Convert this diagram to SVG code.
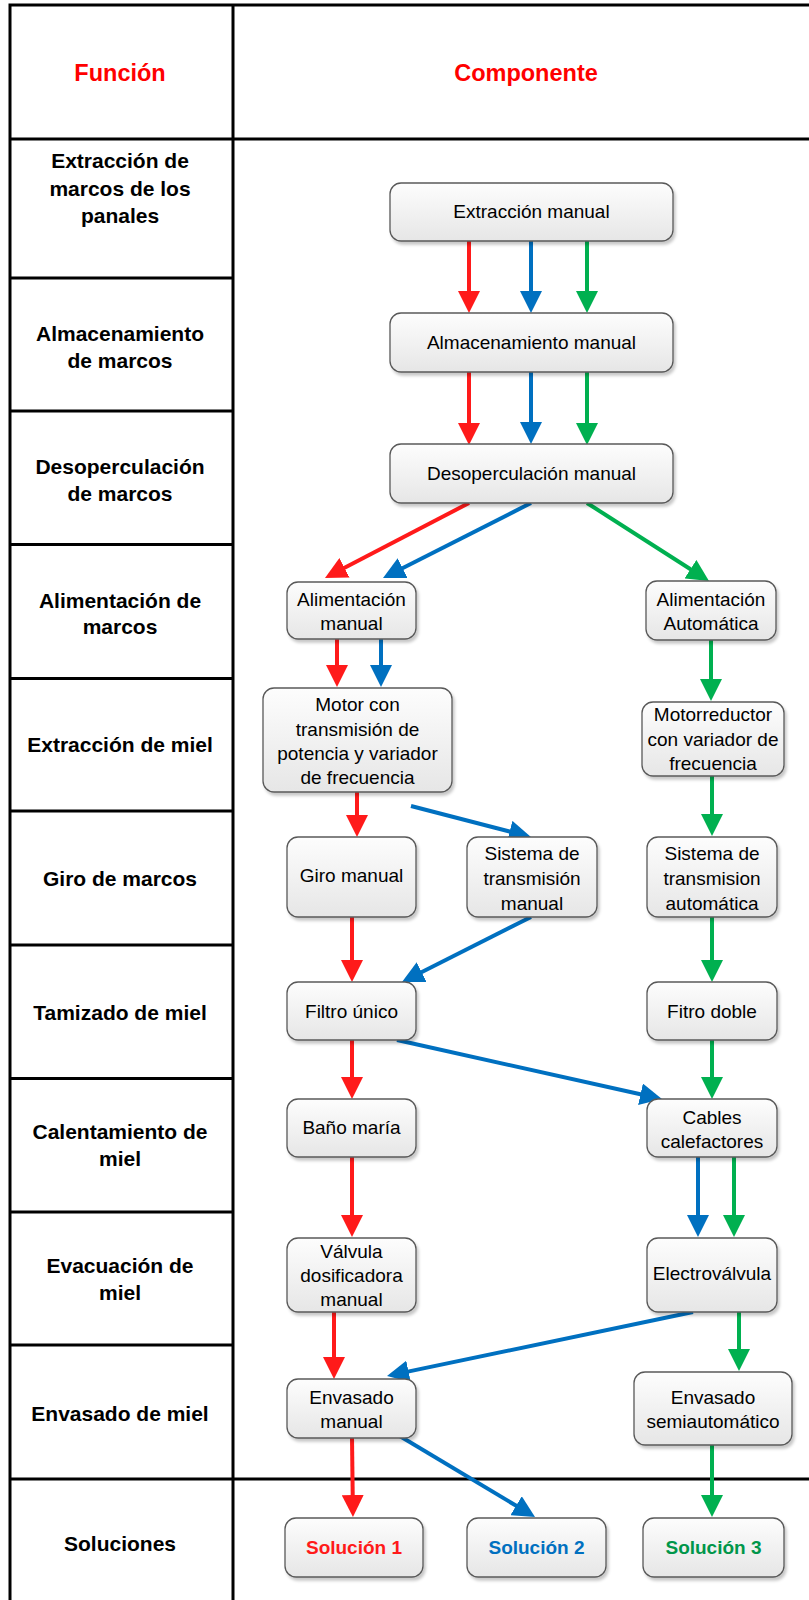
<svg xmlns="http://www.w3.org/2000/svg" width="809" height="1600" viewBox="0 0 809 1600">
<style>
.grid{stroke:#000;stroke-width:3;fill:none}
.hdr{font-family:"Liberation Sans",Arial,sans-serif;font-weight:bold;font-size:23.5px;fill:#FF0000;text-anchor:middle}
.fn{font-family:"Liberation Sans",Arial,sans-serif;font-weight:bold;font-size:21px;fill:#000;text-anchor:middle}
.box{fill:url(#g);stroke:#595959;stroke-width:1.3;filter:url(#sh)}
.t{font-family:"Liberation Sans",Arial,sans-serif;font-size:19px;fill:#000;text-anchor:middle}
.sol{font-family:"Liberation Sans",Arial,sans-serif;font-weight:bold;font-size:19px;text-anchor:middle}
.r{stroke:#FF1A1A;stroke-width:4;fill:none;marker-end:url(#mr)}
.b{stroke:#0070C0;stroke-width:4;fill:none;marker-end:url(#mb)}
.gr{stroke:#00B050;stroke-width:4;fill:none;marker-end:url(#mg)}
</style>
<defs>
<linearGradient id="g" x1="0" y1="0" x2="0" y2="1">
<stop offset="0" stop-color="#FDFDFD"/>
<stop offset="1" stop-color="#E6E6E6"/>
</linearGradient>
<filter id="sh" x="-10%" y="-10%" width="130%" height="140%">
<feDropShadow dx="2" dy="3" stdDeviation="1.5" flood-color="#000" flood-opacity="0.22"/>
</filter>
<marker id="mr" markerUnits="userSpaceOnUse" markerWidth="22" markerHeight="22" viewBox="0 0 22 22" refX="8" refY="11" orient="auto"><path d="M0,0 L22,11 L0,22 z" fill="#FF1A1A"/></marker>
<marker id="mb" markerUnits="userSpaceOnUse" markerWidth="22" markerHeight="22" viewBox="0 0 22 22" refX="8" refY="11" orient="auto"><path d="M0,0 L22,11 L0,22 z" fill="#0070C0"/></marker>
<marker id="mg" markerUnits="userSpaceOnUse" markerWidth="22" markerHeight="22" viewBox="0 0 22 22" refX="8" refY="11" orient="auto"><path d="M0,0 L22,11 L0,22 z" fill="#00B050"/></marker>
</defs>
<rect x="0" y="0" width="809" height="1600" fill="#fff"/>
<g id="table">
<path class="grid" d="M10,5 H815 M10,139 H815 M10,1479 H815 M10,278 H233 M10,411 H233 M10,544.5 H233 M10,678.5 H233 M10,811 H233 M10,945 H233 M10,1078.5 H233 M10,1212 H233 M10,1345 H233 M10,3.5 V1605 M233,3.5 V1605"/>
<text class="hdr" x="120" y="80.5">Función</text>
<text class="hdr" x="526" y="80.5">Componente</text>
<text class="fn" x="120" y="167.5">Extracción de</text>
<text class="fn" x="120" y="195.5">marcos de los</text>
<text class="fn" x="120" y="222.5">panales</text>
<text class="fn" x="120" y="341">Almacenamiento</text>
<text class="fn" x="120" y="367.5">de marcos</text>
<text class="fn" x="120" y="474">Desoperculación</text>
<text class="fn" x="120" y="501">de marcos</text>
<text class="fn" x="120" y="607.5">Alimentación de</text>
<text class="fn" x="120" y="634">marcos</text>
<text class="fn" x="120" y="752">Extracción de miel</text>
<text class="fn" x="120" y="885.5">Giro de marcos</text>
<text class="fn" x="120" y="1019.5">Tamizado de miel</text>
<text class="fn" x="120" y="1139">Calentamiento de</text>
<text class="fn" x="120" y="1166">miel</text>
<text class="fn" x="120" y="1272.5">Evacuación de</text>
<text class="fn" x="120" y="1299.5">miel</text>
<text class="fn" x="120" y="1420.5">Envasado de miel</text>
<text class="fn" x="120" y="1551">Soluciones</text>
</g>
<g id="connectors">
<path class="r" d="M469,241 V299"/>
<path class="b" d="M531,241 V299"/>
<path class="gr" d="M587,241 V299"/>
<path class="r" d="M469,372 V431"/>
<path class="b" d="M531,372 V430"/>
<path class="gr" d="M587,372 V431"/>
<path class="r" d="M469,503 L337.4,571.5"/>
<path class="b" d="M531,503 L395.5,571.7"/>
<path class="gr" d="M587,503 L697.2,573.5"/>
<path class="r" d="M337,639 V673"/>
<path class="b" d="M381,639 V673"/>
<path class="gr" d="M711,640 V687"/>
<path class="r" d="M357,792 V823"/>
<path class="b" d="M411,806 L517.4,833.5"/>
<path class="gr" d="M712,776 V822"/>
<path class="r" d="M352,917 V968"/>
<path class="b" d="M531,917 L414.5,975.7"/>
<path class="gr" d="M712,917 V968"/>
<path class="r" d="M352,1040 V1085"/>
<path class="b" d="M397,1040 L648.3,1096"/>
<path class="gr" d="M712,1040 V1085"/>
<path class="r" d="M352,1157 V1223"/>
<path class="b" d="M698,1157 V1223"/>
<path class="gr" d="M734,1157 V1223"/>
<path class="r" d="M334,1312 V1365"/>
<path class="b" d="M693,1312 L400.7,1373.1"/>
<path class="gr" d="M739,1312 V1357"/>
<path class="r" d="M352,1438 L352.8,1503"/>
<path class="b" d="M398,1435 L523,1509.8"/>
<path class="gr" d="M712,1445 V1503"/>
</g>
<g id="n-extraccion"><rect class="box" x="390" y="183" width="283" height="58" rx="11"/><text class="t" x="531.5" y="217.5">Extracción manual</text></g>
<g id="n-almacenamiento"><rect class="box" x="390" y="313" width="283" height="59" rx="11"/><text class="t" x="531.5" y="348.5">Almacenamiento manual</text></g>
<g id="n-desoperculacion"><rect class="box" x="390" y="444" width="283" height="59" rx="11"/><text class="t" x="531.5" y="479.5">Desoperculación manual</text></g>
<g id="n-alim-manual"><rect class="box" x="287" y="582" width="129" height="57" rx="11"/><text class="t" x="351.5" y="606">Alimentación</text><text class="t" x="351.5" y="630">manual</text></g>
<g id="n-alim-auto"><rect class="box" x="646" y="581" width="130" height="59" rx="11"/><text class="t" x="711" y="606">Alimentación</text><text class="t" x="711" y="630">Automática</text></g>
<g id="n-motor"><rect class="box" x="263" y="688" width="189" height="104" rx="11"/><text class="t" x="357.5" y="711">Motor con</text><text class="t" x="357.5" y="736">transmisión de</text><text class="t" x="357.5" y="760">potencia y variador</text><text class="t" x="357.5" y="784">de frecuencia</text></g>
<g id="n-motorreductor"><rect class="box" x="642" y="702" width="142" height="74" rx="11"/><text class="t" x="713" y="721">Motorreductor</text><text class="t" x="713" y="746">con variador de</text><text class="t" x="713" y="770">frecuencia</text></g>
<g id="n-giro"><rect class="box" x="287" y="837" width="129" height="80" rx="11"/><text class="t" x="351.5" y="882">Giro manual</text></g>
<g id="n-sist-manual"><rect class="box" x="467" y="837" width="130" height="80" rx="11"/><text class="t" x="532" y="860">Sistema de</text><text class="t" x="532" y="884.5">transmisión</text><text class="t" x="532" y="909.5">manual</text></g>
<g id="n-sist-auto"><rect class="box" x="647" y="837" width="130" height="80" rx="11"/><text class="t" x="712" y="860">Sistema de</text><text class="t" x="712" y="885">transmision</text><text class="t" x="712" y="909.5">automática</text></g>
<g id="n-filtro-unico"><rect class="box" x="287" y="982" width="129" height="58" rx="11"/><text class="t" x="351.5" y="1018">Filtro único</text></g>
<g id="n-fitro-doble"><rect class="box" x="647" y="982" width="130" height="58" rx="11"/><text class="t" x="712" y="1018">Fitro doble</text></g>
<g id="n-bano"><rect class="box" x="287" y="1099" width="129" height="58" rx="11"/><text class="t" x="351.5" y="1134">Baño maría</text></g>
<g id="n-cables"><rect class="box" x="647" y="1099" width="130" height="58" rx="11"/><text class="t" x="712" y="1123.5">Cables</text><text class="t" x="712" y="1147.5">calefactores</text></g>
<g id="n-valvula"><rect class="box" x="287" y="1238" width="129" height="74" rx="11"/><text class="t" x="351.5" y="1257.5">Válvula</text><text class="t" x="351.5" y="1282">dosificadora</text><text class="t" x="351.5" y="1306">manual</text></g>
<g id="n-electro"><rect class="box" x="647" y="1238" width="130" height="74" rx="11"/><text class="t" x="712" y="1280">Electroválvula</text></g>
<g id="n-env-manual"><rect class="box" x="287" y="1379" width="129" height="59" rx="11"/><text class="t" x="351.5" y="1403.5">Envasado</text><text class="t" x="351.5" y="1428">manual</text></g>
<g id="n-env-semi"><rect class="box" x="634" y="1372" width="158" height="73" rx="11"/><text class="t" x="713" y="1403.5">Envasado</text><text class="t" x="713" y="1428">semiautomático</text></g>
<g id="n-sol1"><rect class="box" x="285" y="1518" width="138" height="59" rx="11"/><text class="sol" x="354" y="1553.5" fill="#FF1A1A">Solución 1</text></g>
<g id="n-sol2"><rect class="box" x="467" y="1518" width="139" height="59" rx="11"/><text class="sol" x="536.5" y="1553.5" fill="#0070C0">Solución 2</text></g>
<g id="n-sol3"><rect class="box" x="643" y="1518" width="141" height="59" rx="11"/><text class="sol" x="713.5" y="1553.5" fill="#00964A">Solución 3</text></g>
</svg>
